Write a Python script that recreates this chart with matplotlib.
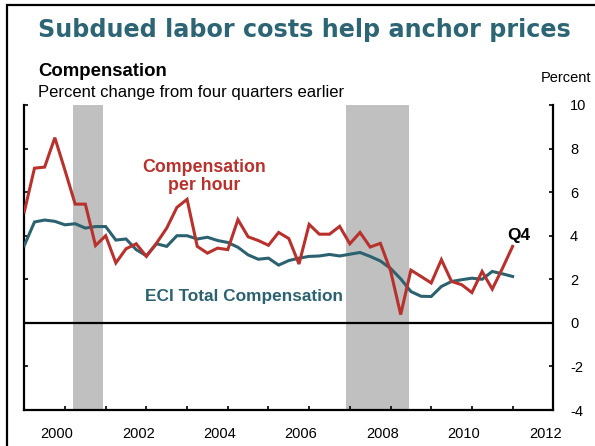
import numpy as np
import matplotlib
matplotlib.use('Agg')
import matplotlib.pyplot as plt
from matplotlib.patches import Rectangle

plt.rcParams['font.family'] = ['Liberation Sans', 'DejaVu Sans']
plt.rcParams['axes.unicode_minus'] = False

# quarterly data, first point at 2000.0 on the axis scale
start_year = 2000.0
comp_per_hour = [5.1, 7.1, 7.15, 8.5, 7.0, 5.45, 5.45, 3.55, 4.0, 2.75,
                 3.4, 3.63, 3.05, 3.66, 4.35, 5.3, 5.67, 3.51, 3.2, 3.43,
                 3.36, 4.74, 3.95, 3.78, 3.56, 4.15, 3.87, 2.7, 4.52, 4.07,
                 4.07, 4.43, 3.63, 4.15, 3.48, 3.65, 2.4, 0.38, 2.42, 2.13,
                 1.83, 2.9, 1.9, 1.75, 1.39, 2.36, 1.55, 2.5, 3.51]
eci_total = [3.55, 4.63, 4.72, 4.66, 4.5, 4.55, 4.35, 4.42, 4.42, 3.8,
             3.85, 3.36, 3.08, 3.63, 3.51, 4.0, 4.0, 3.85, 3.93, 3.78,
             3.69, 3.47, 3.12, 2.92, 2.97, 2.65, 2.86, 2.97, 3.05, 3.07,
             3.14, 3.07, 3.15, 3.23, 3.05, 2.84, 2.5, 2.02, 1.44, 1.22,
             1.21, 1.67, 1.9, 1.98, 2.05, 2.0, 2.36, 2.25, 2.13]

rec_start = [2001.2, 2007.9]
rec_end = [2001.93, 2009.46]

year_labels = ['2000', '2002', '2004', '2006', '2008', '2010', '2012']
year_label_pos = [2000.8, 2002.8, 2004.8, 2006.8, 2008.8, 2010.8, 2012.8]
year_ticks = np.arange(2001, 2013)
y_ticks = [-4, -2, 0, 2, 4, 6, 8, 10]

red = '#B8312D'
teal = '#2C6270'
title_color = '#2D6574'

x = start_year + np.arange(len(comp_per_hour)) / 4

fig = plt.figure(figsize=(5.95, 4.46), dpi=100)
ax = fig.add_axes([24.3 / 595, 1 - 410 / 446, (553.3 - 24.3) / 595, (410 - 105) / 446])

for s, e in zip(rec_start, rec_end):
    ax.axvspan(s, e, color='#C0C0C0', lw=0, zorder=0)

ax.axhline(0, color='black', lw=1.6, zorder=2)
ax.plot(x, eci_total, color=teal, lw=2.2, zorder=3, solid_joinstyle='miter')
ax.plot(x, comp_per_hour, color=red, lw=2.2, zorder=4, solid_joinstyle='miter')

ax.set_xlim(2000, 2013)
ax.set_ylim(-4, 10)
ax.set_xticks(year_label_pos)
ax.set_xticklabels(year_labels)
ax.set_xticks(year_ticks, minor=True)
ax.tick_params(axis='x', which='major', length=0, pad=12, labelsize=10.5)
ax.tick_params(axis='x', which='minor', direction='in', length=3, width=1.2)
ax.set_yticks(y_ticks)
ax.tick_params(axis='y', direction='in', length=3, width=1.2, left=True, right=True,
               labelleft=False, labelright=True, pad=12, labelsize=10.5)
for sp in ['left', 'right', 'bottom']:
    ax.spines[sp].set_linewidth(1.6)
ax.spines['top'].set_visible(False)

ax.text(2004.41, 7.13, 'Compensation', color=red, fontsize=12.8, fontweight='bold',
        ha='center', va='center')
ax.text(2004.41, 6.3, 'per hour', color=red, fontsize=12.8, fontweight='bold',
        ha='center', va='center')
ax.text(2005.4, 1.2, 'ECI Total Compensation', color=teal, fontsize=12.4,
        fontweight='bold', ha='center', va='center')
ax.text(2012.15, 4.0, 'Q4', color='black', fontsize=12.4, fontweight='bold',
        ha='center', va='center')

fig.text(38 / 595, 1 - 30 / 446, 'Subdued labor costs help anchor prices',
         fontsize=17.2, fontweight='bold', color=title_color, family='DejaVu Sans',
         ha='left', va='center')
fig.text(38 / 595, 1 - 72 / 446, 'Compensation', fontsize=13.4, fontweight='bold',
         ha='left', va='center')
fig.text(38 / 595, 1 - 93 / 446, 'Percent change from four quarters earlier',
         fontsize=12, ha='left', va='center')
fig.text(591 / 595, 1 - 78 / 446, 'Percent', fontsize=10.5, ha='right', va='center')

fig.add_artist(Rectangle((7 / 595, -0.1), 1.2, 1.1 - 5 / 446, transform=fig.transFigure,
                         fill=False, edgecolor='black', lw=1.6))

fig.savefig('out.png', dpi=100)
